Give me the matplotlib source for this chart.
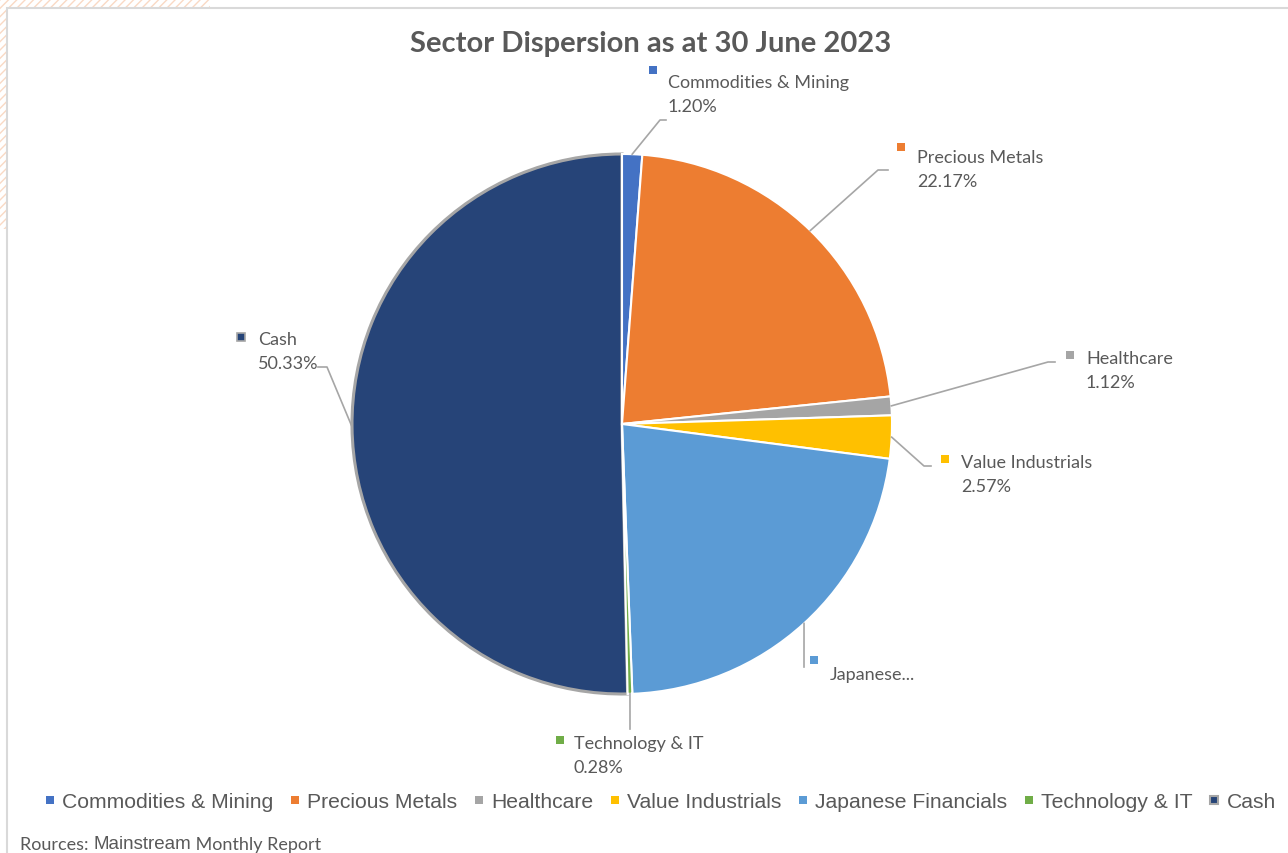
import matplotlib.pyplot as plt
from matplotlib.lines import Line2D
from matplotlib.patches import Rectangle
import numpy as np

sectors = ['Commodities & Mining', 'Precious Metals', 'Healthcare', 'Value Industrials',
           'Japanese Financials', 'Technology & IT', 'Cash']
weights = [1.20, 22.17, 1.12, 2.57, 22.33, 0.28, 50.33]
colors = ['#4472C4', '#ED7D31', '#A5A5A5', '#FFC000', '#5B9BD5', '#70AD47', '#264478']
label_text = ['Commodities & Mining\n1.20%', 'Precious Metals\n22.17%', 'Healthcare\n1.12%',
              'Value Industrials\n2.57%', 'Japanese...', 'Technology & IT\n0.28%', 'Cash\n50.33%']

# label layout (pixel coords): elbow point of leader, end of leader, text position
elbow = [(660, 121), (878, 171), (1048, 363), (924, 467), (804, 668), (630, 730), (327, 368)]
leader_end = [(666, 121), (888, 171), (1055, 363), (931, 467), (804, 668), (630, 730), (318, 368)]
text_pos = [(668, 75), (917, 150), (1086, 351), (961, 455), (830, 667), (574, 736), (258, 332)]
sq_pos = [(653, 71), (901, 148), (1070, 356), (945, 460), (814, 661), (560, 741), (241, 338)]

grey_txt = '#595959'
W, H = 1288, 854
cx, cy, r = 622, 425, 270

fig = plt.figure(figsize=(W / 100, H / 100), dpi=100)
ax = fig.add_axes([0, 0, 1, 1])

# faint background pattern outside the chart frame
ax.add_patch(Rectangle((0, 0), 210, 8, facecolor='white', edgecolor='#f9d9c4',
                       hatch='////', lw=0, zorder=0))
ax.add_patch(Rectangle((0, 0), 7, 230, facecolor='white', edgecolor='#f9d9c4',
                       hatch='////', lw=0, zorder=0))
ax.add_patch(Rectangle((7.5, 8.5), W, H, facecolor='white', edgecolor='#d9d9d9',
                       lw=1.5, zorder=0.5))

# y axis is inverted, so counterclock=True draws clockwise on screen
wedges, _ = ax.pie(weights, colors=colors, startangle=-90, counterclock=True,
                   center=(cx, cy), radius=r, frame=True,
                   wedgeprops=dict(edgecolor='white', linewidth=1.5))
for w in wedges:
    w.set_zorder(2)
wedges[-1].set_edgecolor('#a6a6a6')
wedges[-1].set_linewidth(2.2)
wedges[-1].set_zorder(1.5)
ax.set_xlim(0, W)
ax.set_ylim(H, 0)
ax.set_aspect('equal')
ax.axis('off')

cum = np.cumsum([0] + weights)
for i, w in enumerate(weights):
    mid = (cum[i] + w / 2) / 100 * 2 * np.pi
    px = cx + r * np.sin(mid)
    py = cy - r * np.cos(mid)
    ex, ey = elbow[i]
    lx, ly = leader_end[i]
    ax.plot([px, ex, lx], [py, ey, ly], color='#a6a6a6', lw=1.2, zorder=3)
    is_cash = sectors[i] == 'Cash'
    ax.plot(*sq_pos[i], marker='s', ms=6, color=colors[i],
            mec='#a6a6a6' if is_cash else colors[i], mew=1.2 if is_cash else 0, zorder=4)
    ax.text(*text_pos[i], label_text[i], family='Lato', fontsize=13, color=grey_txt,
            ha='left', va='top', linespacing=1.65, zorder=4)

ax.text(651, 44, 'Sector Dispersion as at 30 June 2023', family='Lato', fontweight='bold',
        fontsize=21, color=grey_txt, ha='center', va='center')

handles = [Line2D([], [], ls='none', marker='s', ms=6, color=c,
                  mec='#a6a6a6' if s == 'Cash' else c, mew=1.5 if s == 'Cash' else 0)
           for s, c in zip(sectors, colors)]
fig.legend(handles, sectors, loc='center', bbox_to_anchor=(660 / W, 1 - 803 / H), ncol=7,
           frameon=False, prop=dict(family='Liberation Sans', size=15.2),
           labelcolor=grey_txt, handlelength=0.55, handletextpad=0.3, columnspacing=0.75)

src = ax.text(20, 850, 'Rources: ', family='Lato', fontsize=13, color=grey_txt,
              ha='left', va='baseline')
src2 = ax.annotate('Mainstream', xy=(1, 0), xycoords=src, family='Liberation Sans',
                   fontsize=13.5, color=grey_txt, ha='left', va='bottom')
ax.annotate(' Monthly Report', xy=(1, 0), xycoords=src2, family='Lato', fontsize=13,
            color=grey_txt, ha='left', va='bottom')

fig.savefig('out.png', dpi=100)
